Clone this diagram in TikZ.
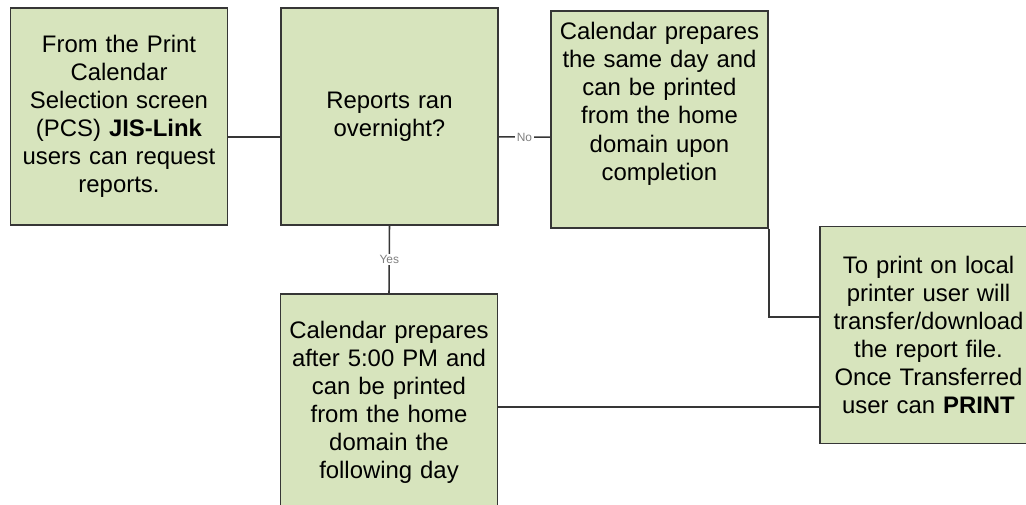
\documentclass[tikz,border=0pt]{standalone}
\usepackage{fontspec}
\setsansfont{Liberation Sans}
\usepackage{tikz}
\usetikzlibrary{positioning}
\usepackage{xcolor}
\definecolor{boxgreen}{HTML}{D7E4BD}
\definecolor{edgegray}{HTML}{363636}

\begin{document}
\begin{tikzpicture}[
    block/.style = {rectangle, draw=edgegray, fill=boxgreen, line width=1.1pt, align=center, font=\sffamily\fontsize{17}{20}\selectfont, text width=5.1cm, minimum width=5.425cm, minimum height=5.425cm, inner sep=2pt},
    link/.style = {draw=edgegray, line width=1.1pt},
    answer/.style = {fill=white, text=gray, font=\sffamily\fontsize{8.5}{9}\selectfont, inner sep=1pt}
]
\clip (0,0) rectangle (25.65,-12.6);

% Row 1 (y = -2.9): request, decision and same-day outcome
\node (pcs) [block] at (2.975, -2.9125) {From the Print\\Calendar\\Selection screen\\(PCS) \textbf{JIS-Link}\\users can request\\reports.};
\node (overnight) [block] at (9.7375, -2.9125) {Reports ran\\overnight?};
\node (sameday) [block] at (16.4875, -2.9875) {Calendar prepares\\the same day and\\can be printed\\from the home\\domain upon\\completion\\[6pt]\mbox{}};

% Row 2: next-day outcome (below decision) and local printing (far right, cut by the frame)
\node (after5) [block] at (9.725, -10.0625) {Calendar prepares\\after 5:00 PM and\\can be printed\\from the home\\domain the\\following day};
\node (print) [block] at (23.2125, -8.375) {To print on local\\printer user will\\transfer/download\\the report file.\\Once Transferred\\user can \textbf{PRINT}};

% Connections
\draw [link] ([yshift=-0.51cm]pcs.east) -- ([yshift=-0.51cm]overnight.west);
\draw [link] ([yshift=-0.51cm]overnight.east) -- node[answer]{No} ([yshift=-0.44cm]sameday.west);
\draw [link] (overnight.south) -- node[answer]{Yes} (after5.north);

% Both outcomes lead to local printing
\coordinate (nextday) at ([yshift=-0.11cm]after5.east);
\draw [link] (sameday.south east) |- ([yshift=0.45cm]print.west);
\draw [link] (nextday) -- (nextday -| print.west);

\end{tikzpicture}
\end{document}
